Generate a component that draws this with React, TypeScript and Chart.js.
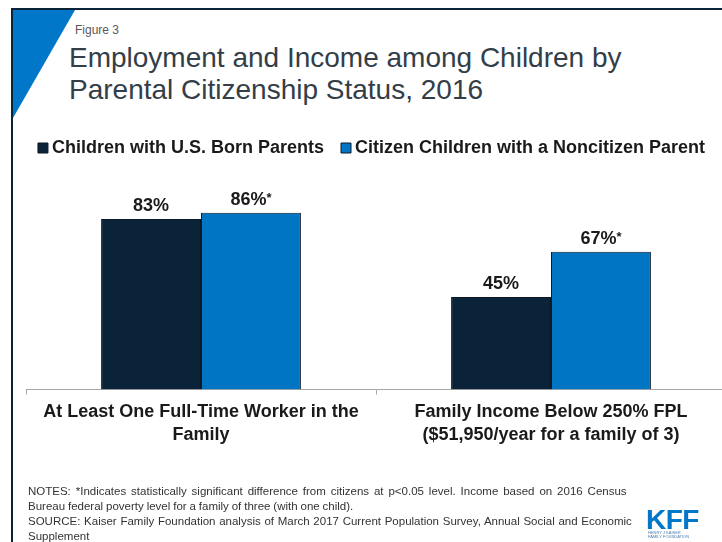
import React, { useEffect, useRef } from "react";
import { Chart, registerables } from "chart.js";

Chart.register(...registerables);

const categories = [
  ["At Least One Full-Time Worker in the", "Family"],
  ["Family Income Below 250% FPL", "($51,950/year for a family of 3)"],
];
const seriesNames = [
  "Children with U.S. Born Parents",
  "Citizen Children with a Noncitizen Parent",
];
const usBornParents = [83, 45];
const noncitizenParent = [86, 67];
const usBornSignificant = [false, false];
const noncitizenSignificant = [true, true];

const FONT = "'Liberation Sans', Arial, Helvetica, sans-serif";
const DARK = "#0b2338";
const BLUE = "#0075c4";

const valueLabels = {
  id: "valueLabels",
  afterDatasetsDraw(chart: any) {
    const ctx = chart.ctx;
    const sig = [usBornSignificant, noncitizenSignificant];
    ctx.save();
    chart.data.datasets.forEach((ds: any, di: number) => {
      const meta = chart.getDatasetMeta(di);
      meta.data.forEach((bar: any, i: number) => {
        const main = ds.data[i] + "%";
        const star = sig[di][i] ? "*" : "";
        ctx.font = `bold 18px ${FONT}`;
        const w = ctx.measureText(main).width;
        ctx.font = `bold 13px ${FONT}`;
        const s = star ? ctx.measureText(star).width : 0;
        const x0 = bar.x - (w + s) / 2;
        const y = bar.y - 8;
        ctx.fillStyle = "#1a1a1a";
        ctx.textAlign = "left";
        ctx.textBaseline = "alphabetic";
        ctx.font = `bold 18px ${FONT}`;
        ctx.fillText(main, x0, y);
        if (star) {
          ctx.font = `bold 13px ${FONT}`;
          ctx.fillText(star, x0 + w, y - 3);
        }
      });
    });
    ctx.restore();
  },
};

export default function App() {
  const ref = useRef<HTMLCanvasElement | null>(null);

  useEffect(() => {
    if (!ref.current) return;
    const chart = new Chart(ref.current, {
      type: "bar",
      data: {
        labels: categories,
        datasets: [
          {
            label: seriesNames[0],
            data: usBornParents,
            backgroundColor: DARK,
            borderColor: "#0a1826",
            borderWidth: 1,
            categoryPercentage: 0.571,
            barPercentage: 1,
          },
          {
            label: seriesNames[1],
            data: noncitizenParent,
            backgroundColor: BLUE,
            borderColor: "#0d1b2a",
            borderWidth: 1,
            categoryPercentage: 0.571,
            barPercentage: 1,
          },
        ],
      },
      options: {
        responsive: false,
        animation: false,
        devicePixelRatio: 1,
        layout: { padding: { left: 17, right: 9, top: 117, bottom: 88.5 } },
        plugins: {
          legend: {
            display: true,
            position: "top",
            labels: {
              usePointStyle: true,
              pointStyle: "rect",
              boxWidth: 0.01,
              boxHeight: 10,
              padding: 22,
              color: "#1a1a1a",
              font: { family: FONT, size: 18, weight: "bold" },
            },
          },
          tooltip: { enabled: false },
        },
        scales: {
          x: {
            grid: {
              display: true,
              drawOnChartArea: false,
              drawTicks: true,
              tickLength: 5,
              color: "#a6a6a6",
              offset: true,
            },
            border: { display: true, color: "#a6a6a6", width: 1 },
            ticks: {
              color: "#1a1a1a",
              font: { family: FONT, size: 18, weight: "bold", lineHeight: "23px" },
              padding: 6.5,
              maxRotation: 0,
              autoSkip: false,
            },
          },
          y: {
            display: true,
            position: "left",
            min: 0,
            max: 108.3,
            grid: { display: false },
            border: { display: false },
            ticks: { display: false },
            afterFit: (scale: any) => {
              scale.width = 9;
            },
          },
          yRight: {
            type: "linear",
            display: true,
            position: "right",
            min: 0,
            max: 108.3,
            grid: { display: false },
            border: { display: false },
            ticks: { display: false },
            afterFit: (scale: any) => {
              scale.width = 5;
            },
          },
        },
      },
      plugins: [valueLabels],
    } as any);
    return () => chart.destroy();
  }, []);

  const noteLine = (text: string, ws: number) => (
    <div style={{ wordSpacing: ws }}>{text}</div>
  );

  return (
    <div
      style={{
        position: "absolute",
        left: 0,
        top: 0,
        width: 722,
        height: 542,
        overflow: "hidden",
        background: "#ffffff",
        fontFamily: FONT,
      }}
    >
      <div style={{ position: "absolute", left: 11, top: 8, width: 720, height: 2, background: DARK }} />
      <div style={{ position: "absolute", left: 11, top: 8, width: 2, height: 540, background: DARK }} />
      <div
        style={{
          position: "absolute",
          left: 13,
          top: 10,
          width: 62,
          height: 108,
          background: "#0077c8",
          clipPath: "polygon(0 0, 100% 0, 0 100%)",
        }}
      />
      <div
        style={{
          position: "absolute",
          left: 75,
          top: 24.3,
          fontSize: 12,
          lineHeight: "12px",
          color: "#595959",
          whiteSpace: "nowrap",
        }}
      >
        Figure 3
      </div>
      <div
        style={{
          position: "absolute",
          left: 69,
          top: 42.3,
          fontSize: 28,
          lineHeight: "32px",
          color: "#333e48",
          whiteSpace: "nowrap",
        }}
      >
        Employment and Income among Children by
        <br />
        Parental Citizenship Status, 2016
      </div>
      <canvas
        ref={ref}
        width={740}
        height={542}
        style={{ position: "absolute", left: 0, top: 0, width: 740, height: 542 }}
      />
      <div
        style={{
          position: "absolute",
          left: 28,
          top: 483.5,
          fontSize: 11.5,
          lineHeight: "15px",
          color: "#333333",
          whiteSpace: "nowrap",
        }}
      >
        {noteLine(
          "NOTES: *Indicates statistically significant difference from citizens at p<0.05 level. Income based on 2016 Census",
          1.7
        )}
        {noteLine("Bureau federal poverty level for a family of three (with one child).", -0.3)}
        {noteLine(
          "SOURCE: Kaiser Family Foundation analysis of March 2017 Current Population Survey, Annual Social and Economic",
          0.5
        )}
        {noteLine("Supplement", 0)}
      </div>
      <div
        style={{
          position: "absolute",
          left: 646,
          top: 506.3,
          fontSize: 28,
          lineHeight: "28px",
          fontWeight: "bold",
          color: "#0077c8",
          whiteSpace: "nowrap",
          letterSpacing: -0.5,
        }}
      >
        KFF
      </div>
      <div
        style={{
          position: "absolute",
          left: 648,
          top: 531,
          fontSize: 4,
          lineHeight: "4px",
          color: "#4a7fae",
          whiteSpace: "nowrap",
        }}
      >
        HENRY J KAISER
        <br />
        FAMILY FOUNDATION
      </div>
    </div>
  );
}
